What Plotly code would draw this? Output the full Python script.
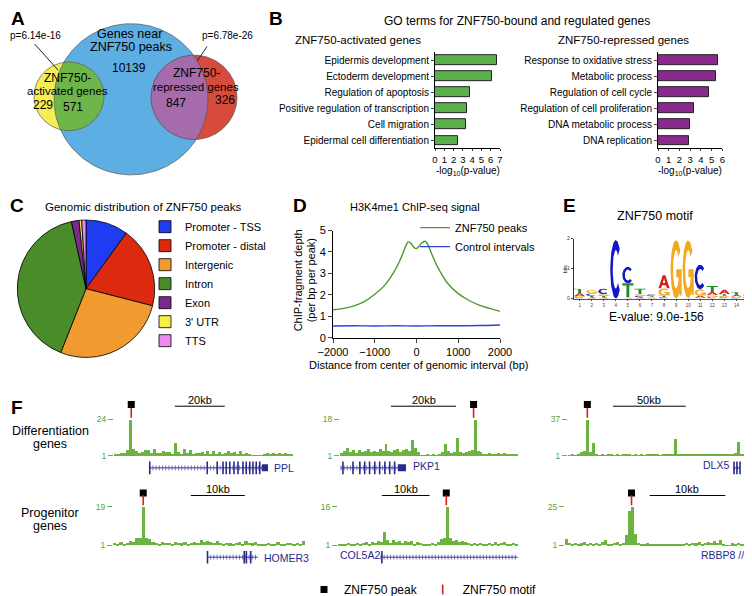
import numpy as np
import plotly.graph_objects as go

W, H = 752, 596
FONT = "Liberation Sans, Arial, Helvetica, sans-serif"

# ======================= DATA =======================
# --- A: Venn diagram ---
venn_big_label = ["Genes near", "ZNF750 peaks"]
venn_big_only = 10139
venn_act_label = ["ZNF750-", "activated genes"]
venn_act_only = 229
venn_act_shared = 571
venn_rep_label = ["ZNF750-", "repressed genes"]
venn_rep_shared = 847
venn_rep_only = 326
venn_p_act = "p=6.14e-16"
venn_p_rep = "p=6.78e-26"

# --- B: GO terms ---
go_act_terms = ["Epidermis development", "Ectoderm development", "Regulation of apoptosis",
                "Positive regulation of transcription", "Cell migration", "Epidermal cell differentiation"]
go_act_vals = [6.65, 6.1, 3.8, 3.45, 3.35, 2.5]
go_rep_terms = ["Response to oxidative stress", "Metabolic process", "Regulation of cell cycle",
                "Regulation of cell proliferation", "DNA metabolic process", "DNA replication"]
go_rep_vals = [5.6, 5.45, 4.8, 3.35, 3.0, 2.85]

# --- C: genomic distribution ---
pie_labels = ["Promoter - TSS", "Promoter - distal", "Intergenic", "Intron", "Exon", "3' UTR", "TTS"]
pie_values = [10.0, 19.0, 27.0, 40.6, 1.8, 0.6, 1.0]
pie_colors = ["#1F3CF0", "#DC2A10", "#F09A30", "#4A8C2A", "#7A2A8A", "#F8EE48", "#E88AF0"]

# --- D: H3K4me1 profile ---
dist_bp = [-2000, -1750, -1500, -1250, -1000, -750, -500, -375, -250, -200, -125, -50, 0,
           50, 125, 200, 250, 375, 500, 750, 1000, 1250, 1500, 1750, 2000]
depth_peaks = [1.31, 1.37, 1.49, 1.69, 2.03, 2.48, 3.2, 3.7, 4.31, 4.47, 4.39, 4.19, 4.16,
               4.24, 4.42, 4.5, 4.42, 3.86, 3.32, 2.53, 2.06, 1.75, 1.52, 1.37, 1.23]
ctrl_bp = [-2000, -1500, -1000, -500, 0, 500, 1000, 1500, 2000]
depth_ctrl = [0.55, 0.56, 0.55, 0.56, 0.55, 0.56, 0.56, 0.57, 0.6]

# --- E: motif (bits per base, positions 1..15) ---
motif_pos = list(range(1, 16))
motif_A = [0.10, 0.04, 0.04, 0.00, 0.02, 0.04, 0.03, 0.44, 0.00, 0.00, 0.06, 0.10, 0.14, 0.05, 0.03]
motif_C = [0.04, 0.08, 0.18, 1.95, 0.55, 0.05, 0.05, 0.04, 0.00, 0.02, 0.82, 0.05, 0.04, 0.03, 0.03]
motif_G = [0.04, 0.12, 0.06, 0.00, 0.02, 0.06, 0.03, 0.25, 1.95, 1.92, 0.22, 0.07, 0.05, 0.04, 0.08]
motif_T = [0.15, 0.05, 0.05, 0.00, 0.47, 0.18, 0.03, 0.05, 0.00, 0.00, 0.03, 0.20, 0.06, 0.10, 0.04]
motif_evalue = "E-value: 9.0e-156"

# --- F: browser tracks ---
track_genes = ["PPL", "PKP1", "DLX5", "HOMER3", "COL5A2", "RBBP8"]
track_max = [24, 18, 37, 19, 16, 25]
track_len_kb = [71.6, 54.8, 124.5, 35.6, 37.7, 23.9]
sig_ppl = [1.6, 2.1, 2.8, 3.0, 4.5, 24, 5.2, 4.0, 2.6, 3.4, 5.0, 4.6, 2.9, 5.5, 3.1, 2.7, 4.2, 3.2, 3.4, 2.5,
           9.0, 3.6, 2.4, 5.5, 3.0, 5.0, 2.3, 3.1, 2.6, 3.7, 2.2, 4.0, 2.0, 3.8, 2.4, 3.5, 2.1, 2.7, 4.3, 2.9,
           3.4, 2.3, 4.4, 2.5, 3.1, 2.0, 1.4, 1.2, 1.3, 1.2, 2.3, 2.6, 1.8, 2.8, 2.2, 3.1, 2.0, 2.7, 2.1, 1.7]
sig_pkp1 = [2.4, 3.1, 4.9, 2.8, 3.6, 2.5, 3.9, 2.7, 3.3, 4.2, 2.6, 3.5, 2.9, 4.0, 3.1, 6.7, 3.4, 2.8, 3.7, 4.4,
            3.0, 3.6, 4.1, 3.3, 8.3, 4.6, 3.0, 1.4, 1.3, 1.5, 1.3, 1.6, 1.4, 2.0, 2.6, 6.7, 3.2, 2.4, 3.0, 9.5,
            2.7, 2.3, 2.6, 3.2, 3.6, 18, 3.4, 3.0, 2.1, 1.9, 2.3, 1.7, 2.0, 2.4, 1.8, 2.2, 1.6, 2.0, 1.8, 1.7]
sig_dlx5 = [1.6, 2.2, 1.8, 2.6, 5.0, 5.5, 37, 5.2, 13.5, 2.4, 1.8, 2.3, 1.6, 2.0, 2.8, 1.7, 2.1, 1.5, 2.4, 1.9,
            2.2, 1.6, 2.5, 1.8, 2.0, 1.7, 2.3, 1.9, 2.6, 2.1, 1.8, 2.4, 2.0, 2.7, 3.2, 17.7, 3.0, 2.2, 1.9, 2.5,
            2.8, 2.0, 3.1, 2.3, 2.6, 1.9, 2.9, 2.2, 2.4, 3.0, 2.1, 2.7, 2.3, 3.1, 2.6, 3.6, 15, 3.2, 2.0, 1.6]
sig_homer3 = [2.0, 1.4, 2.5, 1.6, 2.3, 2.8, 2.4, 4.2, 4.4, 19, 4.3, 4.0, 2.6, 2.2, 1.8, 2.5, 2.0, 2.3, 1.7, 2.6,
              2.1, 1.9, 2.4, 1.6, 2.2, 2.5, 2.0, 3.7, 2.4, 3.2, 2.7, 2.1, 2.9, 2.2, 1.8, 2.3, 1.9, 1.7, 2.1, 2.6,
              1.8, 3.0, 2.2, 1.9, 2.4, 1.6, 1.2, 1.3, 2.1, 1.2, 1.3, 2.4, 1.8, 1.5, 2.0, 2.3, 1.7, 2.1, 1.6, 3.0]
sig_col5a2 = [1.2, 1.5, 1.3, 1.8, 1.4, 1.6, 2.0, 1.5, 1.9, 2.2, 1.7, 2.4, 1.8, 2.6, 2.3, 6.1, 2.9, 2.1, 3.0, 2.4,
              2.7, 1.9, 2.5, 2.2, 2.8, 1.6, 2.3, 2.0, 1.5, 1.3, 1.4, 2.0, 1.6, 2.2, 3.6, 3.8, 16, 3.7, 2.6, 2.9,
              2.2, 2.7, 2.4, 2.0, 1.6, 1.9, 1.5, 2.1, 1.7, 1.4, 2.0, 1.6, 2.3, 1.5, 1.8, 2.2, 1.4, 1.7, 1.9, 1.5]
sig_rbbp8 = [4.8, 2.4, 2.0, 2.6, 1.8, 2.2, 3.0, 1.7, 2.3, 1.9, 2.5, 1.6, 2.8, 4.5, 2.1, 1.8, 2.4, 3.2, 1.9, 2.6,
             7.6, 22, 25, 7.8, 2.6, 1.9, 1.6, 2.2, 1.5, 1.8, 1.4, 1.7, 1.5, 2.0, 1.4, 1.6, 1.3, 1.8, 1.5, 2.1,
             2.4, 1.8, 2.6, 2.2, 2.9, 2.0, 2.5, 3.1, 2.3, 3.4, 2.6, 4.5, 2.0, 1.1, 1.1, 2.2, 1.9, 2.4, 2.0, 1.6]
track_signal = [sig_ppl, sig_pkp1, sig_dlx5, sig_homer3, sig_col5a2, sig_rbbp8]
peak_kb = [6.9, 41.1, 13.3, 5.6, 22.7, 8.8]
scale_kb = [20, 20, 50, 10, 10, 10]
scale_label = ["20kb", "20kb", "50kb", "10kb", "10kb", "10kb"]
scale_start_kb = [24.3, 15.7, 30.9, 14.4, 9.2, 11.2]
gene_span_kb = [(14.3, 61.6), (0.3, 20.3), (114.2, 118.3), (17.5, 26.8), (9.0, 37.7), (24.3, 25.7)]
gene_exons_kb = [[14.3, 37.3, 41.3, 43.6, 44.9, 46.3, 48.0, 49.6, 51.6, 52.9, 54.3, 55.6, 56.9, 58.3],
                 [0.9, 4.0, 6.1, 7.6, 9.1, 10.7, 12.2, 13.8, 15.3, 16.8],
                 [114.2, 116.2, 118.3],
                 [17.5, 24.3, 24.7, 25.5],
                 [9.2],
                 [24.4]]
gene_block_kb = [(59.2, 61.6), (17.8, 20.3), None, None, None, None]
row_names = [["Differentiation", "genes"], ["Progenitor", "genes"]]

# ======================= LAYOUT HELPERS =======================
def fx(x): return x / W
def fy(y): return 1 - y / H
def dom_x(a, b): return [a / W, b / W]
def dom_y(top, bottom): return [1 - bottom / H, 1 - top / H]

annotations = []
def ann(text, x, y, size=11, color="black", xanchor="center", yanchor="middle",
        textangle=0, xref="paper", yref="paper"):
    annotations.append(dict(text=text, x=fx(x) if xref == "paper" else x,
                            y=fy(y) if yref == "paper" else y, xref=xref, yref=yref,
                            showarrow=False, textangle=textangle, xanchor=xanchor, yanchor=yanchor,
                            font=dict(size=size, color=color, family=FONT)))

fig = go.Figure()
lay = {}

# ======================= A: VENN =======================
lay["xaxis"] = dict(domain=dom_x(0, 235), range=[0, 235], visible=False, showgrid=False, zeroline=False, anchor="y")
lay["yaxis"] = dict(domain=dom_y(0, 185), range=[185, 0], visible=False, showgrid=False, zeroline=False, anchor="x")
C_BIG, C_ACT, C_REP = (123, 93, 77), (61, 90, 35), (186, 91, 43)

def circ(c, n=240):
    t = np.linspace(0, 2 * np.pi, n)
    return c[0] + c[2] * np.cos(t), c[1] + c[2] * np.sin(t)

def lens(a, b, n=900):
    def inside(p, q):
        base = np.arctan2(p[1] - q[1], p[0] - q[0])
        t = base + np.linspace(0, 2 * np.pi, n)
        x = p[0] + p[2] * np.cos(t); y = p[1] + p[2] * np.sin(t)
        m = (x - q[0]) ** 2 + (y - q[1]) ** 2 <= q[2] ** 2
        return x[m], y[m]
    x1, y1 = inside(a, b); x2, y2 = inside(b, a)
    return np.concatenate([x1, x2]), np.concatenate([y1, y2])

for c, col in [(C_BIG, "#5DAEE3"), (C_ACT, "#F6EC55"), (C_REP, "#D64B3B")]:
    x, y = circ(c)
    fig.add_trace(go.Scatter(x=x, y=y, fill="toself", fillcolor=col, mode="lines",
                             line=dict(width=0), hoverinfo="skip", showlegend=False, xaxis="x", yaxis="y"))
for a, b, col in [(C_ACT, C_BIG, "#70B549"), (C_REP, C_BIG, "#A66BAA")]:
    x, y = lens(a, b)
    fig.add_trace(go.Scatter(x=x, y=y, fill="toself", fillcolor=col, mode="lines",
                             line=dict(width=0), hoverinfo="skip", showlegend=False, xaxis="x", yaxis="y"))
for c in [C_BIG, C_ACT, C_REP]:
    x, y = circ(c)
    fig.add_trace(go.Scatter(x=x, y=y, mode="lines", line=dict(width=0.7, color="#555"),
                             hoverinfo="skip", showlegend=False, xaxis="x", yaxis="y"))
fig.add_trace(go.Scatter(x=[26.7, 50, None, 199, 189.3], y=[36.7, 63.3, None, 39.3, 54], mode="lines",
                         line=dict(width=1, color="#222"), hoverinfo="skip", showlegend=False,
                         xaxis="x", yaxis="y"))

def vann(text, x, y, size=12):
    ann(text, x, y, size=size, xref="x", yref="y")
vann(venn_big_label[0], 121.7, 26, 12.5)
vann(venn_big_label[1], 122.5, 39.5, 12.5)
vann(str(venn_big_only), 120.5, 61, 12)
vann(venn_act_label[0], 59, 71, 12)
vann(venn_act_label[1], 59, 85, 11.5)
vann(str(venn_act_only), 34.5, 98.5, 12)
vann(str(venn_act_shared), 65.3, 101, 12)
vann(venn_rep_label[0], 188, 66.5, 12)
vann(venn_rep_label[1], 188, 80.5, 11.5)
vann(str(venn_rep_shared), 167.5, 96.5, 12)
vann(str(venn_rep_only), 216.7, 93.5, 12)
vann(venn_p_act, 27.5, 28.3, 10)
vann(venn_p_rep, 219.5, 28.3, 10)

# ======================= B: GO BARS =======================
def bar_axes(n, x0, x1, xmax):
    lay["xaxis" + n] = dict(domain=dom_x(x0, x1), range=[0, xmax], dtick=1, ticks="outside", ticklen=2,
                            showline=True, linecolor="black", linewidth=1, showgrid=False, zeroline=False,
                            tickfont=dict(size=9.5, family=FONT, color="black"), anchor="y" + n)
    lay["yaxis" + n] = dict(domain=dom_y(45, 143), range=[5.5, -0.5], ticks="outside", ticklen=3,
                            showline=True, linecolor="black", linewidth=1, showgrid=False, zeroline=False,
                            tickfont=dict(size=10, family=FONT, color="black"), anchor="x" + n)
bar_axes("2", 427, 492, 7)
bar_axes("3", 650, 714.3, 6)
fig.add_trace(go.Bar(x=go_act_vals, y=go_act_terms, orientation="h", width=0.58,
                     marker=dict(color="#5CB04B", line=dict(color="#222", width=1)),
                     showlegend=False, xaxis="x2", yaxis="y2"))
fig.add_trace(go.Bar(x=go_rep_vals, y=go_rep_terms, orientation="h", width=0.58,
                     marker=dict(color="#8A2A8C", line=dict(color="#222", width=1)),
                     showlegend=False, xaxis="x3", yaxis="y3"))
ann("GO terms for ZNF750-bound and regulated genes", 509, 13, 12)
ann("ZNF750-activated genes", 350, 33, 11.5)
ann("ZNF750-repressed genes", 615, 33, 11.5)
ann("-log<sub>10</sub>(p-value)", 459.5, 166, 10)
ann("-log<sub>10</sub>(p-value)", 682, 166, 10)

# ======================= C: PIE =======================
fig.add_trace(go.Pie(labels=pie_labels, values=pie_values, sort=False, direction="clockwise",
                     rotation=0, textinfo="none", textposition="none", hoverinfo="label+percent",
                     marker=dict(colors=pie_colors, line=dict(color="black", width=0.8)),
                     domain=dict(x=dom_x(8, 148), y=dom_y(216, 356)), legend="legend", showlegend=True))
ann("Genomic distribution of ZNF750 peaks", 135, 203, 11.5)

# ======================= D: PROFILE =======================
lay["xaxis4"] = dict(domain=dom_x(325, 492), range=[-2000, 2000], tickvals=[-2000, -1000, 0, 1000, 2000],
                     ticks="outside", ticklen=4, showline=True, linecolor="black", linewidth=1,
                     showgrid=False, zeroline=False, tickfont=dict(size=11, family=FONT, color="black"),
                     anchor="y4")
lay["yaxis4"] = dict(domain=dom_y(226.7, 336), range=[0, 5], dtick=1, ticks="outside", ticklen=4,
                     showline=True, linecolor="black", linewidth=1, showgrid=False, zeroline=False,
                     tickfont=dict(size=11, family=FONT, color="black"), anchor="x4")
fig.add_trace(go.Scatter(x=dist_bp, y=depth_peaks, mode="lines", line=dict(color="#4E9A2E", width=1.4, shape="spline"),
                         name="ZNF750 peaks", legend="legend2", xaxis="x4", yaxis="y4"))
fig.add_trace(go.Scatter(x=ctrl_bp, y=depth_ctrl, mode="lines", line=dict(color="#3340DD", width=1.4, shape="spline"),
                         name="Control intervals", legend="legend2", xaxis="x4", yaxis="y4"))
ann("H3K4me1 ChIP-seq signal", 407, 203, 11)
ann("Distance from center of genomic interval (bp)", 410, 363.5, 11)
ann("ChIP-fragment depth", 289.5, 278, 11, textangle=-90)
ann("(per bp per peak)", 302.5, 278, 11, textangle=-90)

# ======================= E: MOTIF LOGO =======================
lay["xaxis5"] = dict(domain=dom_x(565.6, 746.5), range=[0.5, 15.5], tickvals=motif_pos, ticks="outside",
                     ticklen=2, tickwidth=0.6, showline=True, linecolor="#555", linewidth=0.6,
                     showgrid=False, zeroline=False, tickangle=0,
                     tickfont=dict(size=4.5, family=FONT, color="#444"), anchor="y5")
lay["yaxis5"] = dict(domain=dom_y(235, 296), range=[0, 2], tickvals=[0, 1, 2], ticks="outside", ticklen=2,
                     tickwidth=0.6, showline=True, linecolor="#333", linewidth=0.6, showgrid=False,
                     zeroline=False, tickfont=dict(size=5, family=FONT, color="#333"), anchor="x5")
BASE_COL = {"A": "#D41F1F", "C": "#1414C8", "G": "#F2A91C", "T": "#1E8C1E"}

def glyph(letter, x0, y0, w, h):
    polys, holes = [], []
    def rect(a, b, c, d):
        return ([x0 + a * w, x0 + b * w, x0 + b * w, x0 + a * w], [y0 + c * h, y0 + c * h, y0 + d * h, y0 + d * h])
    if letter == "T":
        polys += [rect(0, 1, 0.84, 1), rect(0.37, 0.63, 0, 0.84)]
    elif letter == "A":
        ux = [0, 0.38, 0.62, 1, 0.76, 0.68, 0.32, 0.24]; uy = [0, 1, 1, 0, 0, 0.24, 0.24, 0]
        polys.append(([x0 + u * w for u in ux], [y0 + v * h for v in uy]))
        hx = [0.39, 0.5, 0.61]; hy = [0.40, 0.74, 0.40]
        holes.append(([x0 + u * w for u in hx], [y0 + v * h for v in hy]))
    else:
        a0, a1 = (45, 315) if letter == "C" else (40, 350)
        t = np.radians(np.linspace(a0, a1, 48))
        ox = 0.5 + 0.5 * np.cos(t); oy = 0.5 + 0.5 * np.sin(t)
        ix = 0.5 + 0.28 * np.cos(t[::-1]); iy = 0.5 + 0.33 * np.sin(t[::-1])
        xs = np.concatenate([ox, ix]); ys = np.concatenate([oy, iy])
        polys.append((list(x0 + xs * w), list(y0 + ys * h)))
        if letter == "G":
            polys += [rect(0.52, 1.0, 0.36, 0.5), rect(0.8, 1.0, 0.05, 0.5)]
    return polys, holes

acc = {b: ([], []) for b in "ACGT"}
hole_acc = ([], [])
for i, p in enumerate(motif_pos):
    hts = {"A": motif_A[i], "C": motif_C[i], "G": motif_G[i], "T": motif_T[i]}
    y0 = 0.0
    for b in sorted(hts, key=lambda k: hts[k]):
        h = hts[b]
        if h <= 0:
            continue
        polys, holes = glyph(b, p - 0.46, y0, 0.92, h)
        for xs, ys in polys:
            acc[b][0].extend(list(xs) + [None]); acc[b][1].extend(list(ys) + [None])
        for xs, ys in holes:
            hole_acc[0].extend(list(xs) + [None]); hole_acc[1].extend(list(ys) + [None])
        y0 += h
for b in "ACGT":
    fig.add_trace(go.Scatter(x=acc[b][0], y=acc[b][1], fill="toself", fillcolor=BASE_COL[b], mode="lines",
                             line=dict(width=0), hoverinfo="skip", showlegend=False, xaxis="x5", yaxis="y5"))
fig.add_trace(go.Scatter(x=hole_acc[0], y=hole_acc[1], fill="toself", fillcolor="white", mode="lines",
                         line=dict(width=0), hoverinfo="skip", showlegend=False, xaxis="x5", yaxis="y5"))
ann("ZNF750 motif", 647, 212, 12.5)
ann(motif_evalue, 648, 315, 12)
ann("bits", 556.5, 266.5, 5, textangle=-90)

# ======================= F: BROWSER TRACKS =======================
track_x0 = [106, 332, 560, 105, 330, 557]
track_x1 = [285, 510, 741, 297, 510, 752]
px_per_kb = [2.5, 3.25, 1.454, 5.4, 4.77, 7.56]
track_row = [0, 0, 0, 1, 1, 1]
row_base = [456, 547.5]
row_top = [419, 508]
row_dom = [(395, 476), (485, 569)]
row_box = [404, 494]
row_motif = [412.5, 501.5]
row_scale = [405.7, 496.7]
row_scale_lab = [399.5, 490.5]
row_gene = [468.5, 559.5]
GREEN_SIG = "#6DB33F"
GENE_COL = "#2A2A8C"

for k in range(6):
    n = str(6 + k)
    r = track_row[k]
    base, top, m = row_base[r], row_top[r], track_max[k]
    span = base - top
    def to_d(ypx, base=base, span=span, m=m):
        return 1 + (base - ypx) / span * (m - 1)
    xr = [0, (track_x1[k] - track_x0[k]) / px_per_kb[k]]
    lay["xaxis" + n] = dict(domain=dom_x(track_x0[k], track_x1[k]), range=xr, visible=False,
                            showgrid=False, zeroline=False, anchor="y" + n)
    lay["yaxis" + n] = dict(domain=dom_y(*row_dom[r]), range=[to_d(row_dom[r][1]), to_d(row_dom[r][0])],
                            tickvals=[1, m], ticktext=["1", str(m)], ticks="outside", ticklen=5,
                            tickcolor=GREEN_SIG, tickwidth=1, showline=False, showgrid=False, zeroline=False,
                            tickfont=dict(size=8.5, family=FONT, color="#5DA03A"), anchor="x" + n)
    sig = track_signal[k]
    nb = len(sig)
    bw = track_len_kb[k] / nb
    xs = (np.arange(nb) + 0.5) * bw
    fig.add_trace(go.Bar(x=xs, y=[v - 1 for v in sig], base=1, width=bw,
                         marker=dict(color=GREEN_SIG, line=dict(width=0)),
                         showlegend=False, hoverinfo="skip", xaxis="x" + n, yaxis="y" + n))
    fig.add_trace(go.Scatter(x=[peak_kb[k]], y=[to_d(row_box[r])], mode="markers",
                             marker=dict(symbol="square", size=7, color="black"),
                             name="ZNF750 peak", legend="legend3", showlegend=(k == 0),
                             hoverinfo="skip", xaxis="x" + n, yaxis="y" + n))
    fig.add_trace(go.Scatter(x=[peak_kb[k]], y=[to_d(row_motif[r])], mode="markers",
                             marker=dict(symbol="line-ns", size=7, line=dict(width=1.6, color="#D42020")),
                             name="ZNF750 motif", legend="legend3", showlegend=(k == 0),
                             hoverinfo="skip", xaxis="x" + n, yaxis="y" + n))
    sy = to_d(row_scale[r])
    fig.add_trace(go.Scatter(x=[scale_start_kb[k], scale_start_kb[k] + scale_kb[k]], y=[sy, sy], mode="lines",
                             line=dict(color="black", width=1), showlegend=False, hoverinfo="skip",
                             xaxis="x" + n, yaxis="y" + n))
    mid_px = track_x0[k] + (scale_start_kb[k] + scale_kb[k] / 2) * px_per_kb[k]
    ann(scale_label[k], mid_px, row_scale_lab[r], 11)
    gy = to_d(row_gene[r])
    g0, g1 = gene_span_kb[k]
    chev = np.arange(g0, g1, 3.2 / px_per_kb[k])
    fig.add_trace(go.Scatter(x=[g0, g1], y=[gy, gy], mode="lines", line=dict(color=GENE_COL, width=1),
                             showlegend=False, hoverinfo="skip", xaxis="x" + n, yaxis="y" + n))
    fig.add_trace(go.Scatter(x=chev, y=[gy] * len(chev), mode="markers",
                             marker=dict(symbol="line-ns", size=3.5, line=dict(width=0.8, color="#5555AA")),
                             showlegend=False, hoverinfo="skip", xaxis="x" + n, yaxis="y" + n))
    ex = gene_exons_kb[k]
    fig.add_trace(go.Scatter(x=ex, y=[gy] * len(ex), mode="markers",
                             marker=dict(symbol="line-ns", size=9, line=dict(width=1.6, color=GENE_COL)),
                             showlegend=False, hoverinfo="skip", xaxis="x" + n, yaxis="y" + n))
    if gene_block_kb[k] is not None:
        b0, b1 = gene_block_kb[k]
        fig.add_trace(go.Scatter(x=[b0, b1], y=[gy, gy], mode="lines", line=dict(color=GENE_COL, width=7),
                                 showlegend=False, hoverinfo="skip", xaxis="x" + n, yaxis="y" + n))

ann(track_genes[0], 264, 469, 10.5, GENE_COL, xanchor="left")
ann(track_genes[1], 403, 467, 10.5, GENE_COL, xanchor="left")
ann(track_genes[2], 723, 466, 10.5, GENE_COL, xanchor="right")
ann(track_genes[3], 254, 560, 10.5, GENE_COL, xanchor="left")
ann(track_genes[4], 330, 557, 10.5, GENE_COL, xanchor="left")
ann(track_genes[5] + " //", 738, 557, 10.5, GENE_COL, xanchor="right")
for r in range(2):
    ann(row_names[r][0], 42, [431, 514][r], 12.5)
    ann(row_names[r][1], 42, [444.5, 528][r], 12.5)

# ======================= PANEL LETTERS =======================
for L, x, y in [("A", 10, 11), ("B", 268, 11), ("C", 8.5, 201), ("D", 291.5, 201), ("E", 561.5, 201), ("F", 9, 407)]:
    ann("<b>%s</b>" % L, x, y, 19)

lay.update(
    width=W, height=H, autosize=False, margin=dict(l=0, r=0, t=0, b=0),
    paper_bgcolor="white", plot_bgcolor="rgba(0,0,0,0)", template="none",
    font=dict(family=FONT, size=11, color="black"),
    bargap=0, annotations=annotations,
    legend=dict(x=fx(137), y=fy(208), xanchor="left", yanchor="top", bgcolor="rgba(0,0,0,0)",
                font=dict(size=11, family=FONT), tracegroupgap=0),
    legend2=dict(x=fx(407), y=fy(209), xanchor="left", yanchor="top", bgcolor="rgba(0,0,0,0)",
                 font=dict(size=11, family=FONT)),
    legend3=dict(x=fx(296), y=fy(578), xanchor="left", yanchor="top", orientation="h",
                 bgcolor="rgba(0,0,0,0)", font=dict(size=12, family=FONT)),
)
fig.update_layout(**lay)
fig.write_html("out.html")
